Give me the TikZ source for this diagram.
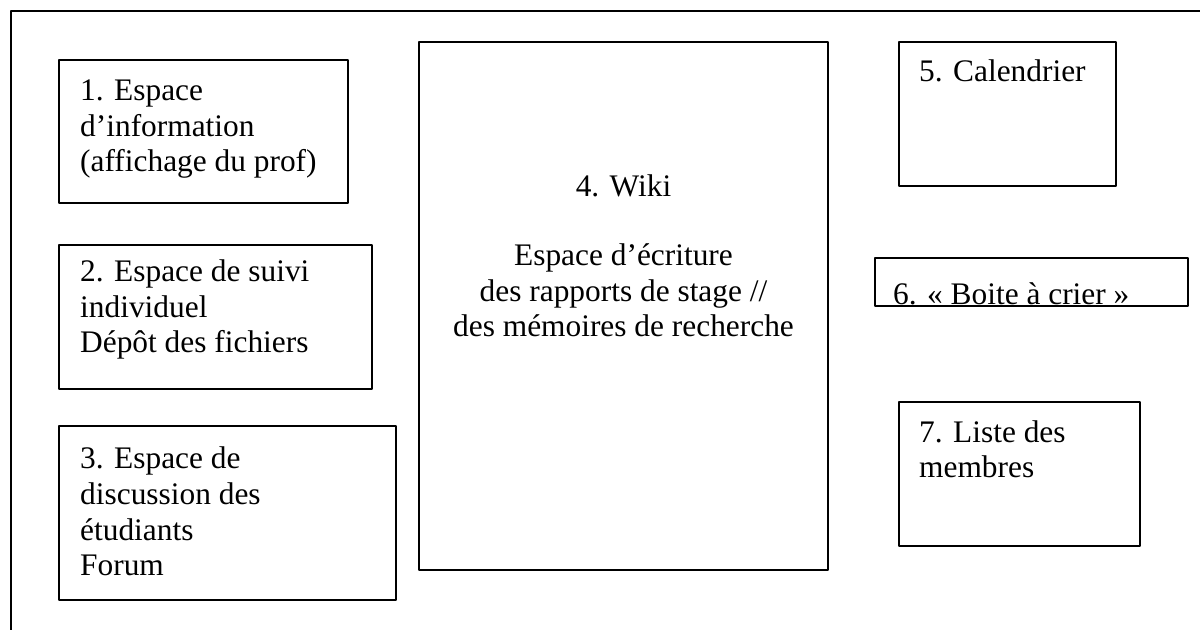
\documentclass[tikz,border=0pt]{standalone}
\usepackage{fontspec}
\setmainfont{Liberation Serif}
\usetikzlibrary{positioning}

\begin{document}
\begin{tikzpicture}[line join=bevel,
  box/.style={draw,line width=1.6bp,inner sep=0pt},
  lbl/.style={inner sep=0pt,align=left,anchor=base west,font=\fontsize{31.5}{36}\selectfont},
]
\useasboundingbox (0bp,0bp) rectangle (1200bp,630bp);
%%
\draw [line width=1.8bp] (11bp,0bp) -- (11bp,619bp) -- (1200bp,619bp);
%
\node (b1) at (203.5bp,498.5bp) [box,minimum width=289bp,minimum height=143bp] {};
  \node (b2) at (215.5bp,313bp) [box,minimum width=313bp,minimum height=144bp] {};
  \node (b3) at (227.5bp,117bp) [box,minimum width=337bp,minimum height=174bp] {};
  \node (b4) at (623.5bp,324bp) [box,minimum width=409bp,minimum height=528bp] {};
  \node (b5) at (1007.5bp,516bp) [box,minimum width=217bp,minimum height=144bp] {};
  \node (b6) at (1031.5bp,348bp) [box,minimum width=313bp,minimum height=48bp] {};
  \node (b7) at (1019.5bp,156bp) [box,minimum width=241bp,minimum height=144bp] {};
%% base = last line
\node (t1) at (80bp,458bp) [lbl] {1. Espace\\ d’information\\ (affichage du prof)};
  \node (t2) at (80bp,277bp) [lbl] {2. Espace de suivi\\ individuel\\ Dépôt des fichiers};
  \node (t3) at (80bp,54bp) [lbl] {3. Espace de\\ discussion des\\ étudiants\\ Forum};
  \node (t4) at (623.5bp,293bp) [lbl,align=center,anchor=base] {4. Wiki\\[33bp] Espace d’écriture\\ des rapports de stage //\\ des mémoires de recherche};
  \node (t5) at (919bp,548bp) [lbl] {5. Calendrier};
  \begin{scope}
  \clip ([yshift=1bp]b6.south west) rectangle (b6.north east);
  \node (t6) at (893bp,325bp) [lbl] {6. « Boite à crier »};
  \end{scope}
  \node (t7) at (919bp,152bp) [lbl] {7. Liste des\\ membres};
%
\end{tikzpicture}
\end{document}
